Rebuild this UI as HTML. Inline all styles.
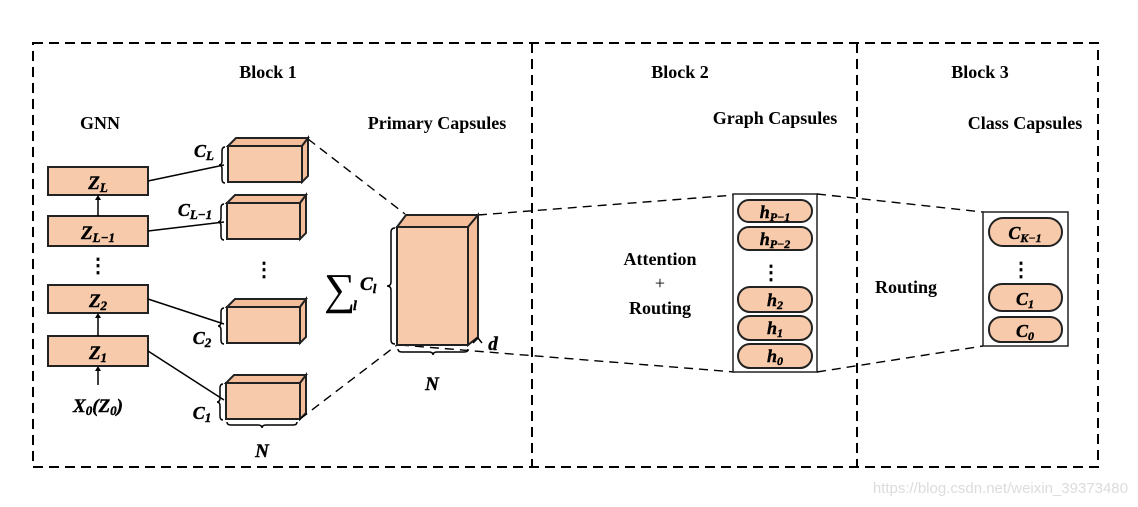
<!DOCTYPE html>
<html><head><meta charset="utf-8"><style>
html,body{margin:0;padding:0;background:#fff;}
svg{display:block;}
text{font-family:"Liberation Serif",serif;font-weight:bold;fill:#000;}
.m{font-style:italic;font-weight:900;stroke:#000;stroke-width:0.4;}
</style></head><body>
<svg width="1138" height="507" viewBox="0 0 1138 507" xmlns="http://www.w3.org/2000/svg">
<defs><style>
.d{stroke:#000;stroke-width:2;stroke-dasharray:10,6;fill:none}
.dl{stroke:#000;stroke-width:1.4;stroke-dasharray:9,6;fill:none}
.f{fill:#F7CAAB;stroke:#222;stroke-width:2}
.fs{fill:#F4BE9A;stroke:#222;stroke-width:2}
.l{stroke:#000;stroke-width:1.5;fill:none}
</style></defs>
<rect x="33" y="43" width="1065" height="424" class="d"/>
<line x1="532" y1="43" x2="532" y2="467" class="d"/>
<line x1="857" y1="43" x2="857" y2="467" class="d"/>
<text x="268" y="78" font-size="18" text-anchor="middle">Block 1</text>
<text x="680" y="78" font-size="18" text-anchor="middle">Block 2</text>
<text x="980" y="78" font-size="18" text-anchor="middle">Block 3</text>
<text x="100" y="129" font-size="18" text-anchor="middle">GNN</text>
<text x="437" y="129" font-size="18" text-anchor="middle">Primary Capsules</text>
<text x="775" y="124" font-size="18" text-anchor="middle">Graph Capsules</text>
<text x="1025" y="129" font-size="18" text-anchor="middle">Class Capsules</text>

<rect x="48" y="167" width="100" height="28" class="f"/>
<text x="98" y="189" font-size="19" text-anchor="middle" class="m">Z<tspan font-size="13" dy="3">L</tspan></text>
<rect x="48" y="216" width="100" height="30" class="f"/>
<text x="98" y="239" font-size="19" text-anchor="middle" class="m">Z<tspan font-size="13" dy="3">L−1</tspan></text>
<text x="98" y="272" font-size="20" text-anchor="middle">⋮</text>
<rect x="48" y="285" width="100" height="28" class="f"/>
<text x="98" y="307" font-size="19" text-anchor="middle" class="m">Z<tspan font-size="13" dy="3">2</tspan></text>
<rect x="48" y="336" width="100" height="30" class="f"/>
<text x="98" y="359" font-size="19" text-anchor="middle" class="m">Z<tspan font-size="13" dy="3">1</tspan></text>
<line x1="98" y1="216" x2="98" y2="197" class="l"/><polygon points="95,200 101,200 98,195"/>
<line x1="98" y1="336" x2="98" y2="315" class="l"/><polygon points="95,318 101,318 98,313"/>
<line x1="98" y1="385" x2="98" y2="368" class="l"/><polygon points="95,371 101,371 98,366"/>
<text x="98" y="412" font-size="19" text-anchor="middle" class="m">X<tspan font-size="13" dy="3">0</tspan><tspan dy="-3">(Z</tspan><tspan font-size="13" dy="3">0</tspan><tspan dy="-3">)</tspan></text>

<line x1="148" y1="181" x2="224" y2="165" class="l"/>
<line x1="148" y1="231" x2="224" y2="222" class="l"/>
<line x1="148" y1="299" x2="224" y2="324" class="l"/>
<line x1="148" y1="351" x2="224" y2="400" class="l"/>

<g>
<polygon points="228,146 236,138 308,138 302,146" class="fs"/><polygon points="302,146 308,138 308,176 302,182" class="fs"/><rect x="228" y="146" width="74" height="36" class="f"/>
<polygon points="227,203 235,195 306,195 300,203" class="fs"/><polygon points="300,203 306,195 306,233 300,239" class="fs"/><rect x="227" y="203" width="73" height="36" class="f"/>
<polygon points="227,307 235,299 306,299 300,307" class="fs"/><polygon points="300,307 306,299 306,337 300,343" class="fs"/><rect x="227" y="307" width="73" height="36" class="f"/>
<polygon points="226,383 234,375 306,375 300,383" class="fs"/><polygon points="300,383 306,375 306,413 300,419" class="fs"/><rect x="226" y="383" width="74" height="36" class="f"/>
</g>
<path d="M225,147 q-3,0 -3,4 v10 q0,4 -3,4 q3,0 3,4 v10 q0,4 3,4" class="l"/>
<path d="M224,204 q-3,0 -3,4 v10 q0,4 -3,4 q3,0 3,4 v10 q0,4 3,4" class="l"/>
<path d="M224,308 q-3,0 -3,4 v10 q0,4 -3,4 q3,0 3,4 v10 q0,4 3,4" class="l"/>
<path d="M223,384 q-3,0 -3,4 v10 q0,4 -3,4 q3,0 3,4 v10 q0,4 3,4" class="l"/>
<path d="M227,422 q0,3 4,3 h27 q4,0 4,3 q0,-3 4,-3 h27 q4,0 4,-3" class="l"/>
<text x="204" y="157" font-size="18" text-anchor="middle" class="m">C<tspan font-size="13" dy="3">L</tspan></text>
<text x="195" y="216" font-size="18" text-anchor="middle" class="m">C<tspan font-size="13" dy="3">L−1</tspan></text>
<text x="202" y="344" font-size="18" text-anchor="middle" class="m">C<tspan font-size="13" dy="3">2</tspan></text>
<text x="202" y="419" font-size="18" text-anchor="middle" class="m">C<tspan font-size="13" dy="3">1</tspan></text>
<text x="264" y="276" font-size="20" text-anchor="middle">⋮</text>
<text x="262" y="457" font-size="19" text-anchor="middle" class="m">N</text>

<line x1="308" y1="139" x2="405" y2="214" class="dl"/>
<line x1="300" y1="419" x2="397" y2="345" class="dl"/>
<line x1="478" y1="215" x2="735" y2="195" class="dl"/>
<line x1="400" y1="345" x2="735" y2="372" class="dl"/>
<polygon points="397,227 406,215 478,215 468,227" class="fs"/>
<polygon points="468,227 478,215 478,337 468,345" class="fs"/>
<rect x="397" y="227" width="71" height="118" class="f"/>
<path d="M395,228 q-4,0 -4,4 v50 q0,4 -4,4 q4,0 4,4 v50 q0,4 4,4" class="l"/>
<path d="M398,349 q0,3 4,3 h27 q4,0 4,3 q0,-3 4,-3 h27 q4,0 4,-3" class="l"/>
<path d="M473,343 l5,-5 l4,5" class="l"/>
<text x="432" y="390" font-size="19" text-anchor="middle" class="m">N</text>
<text x="493" y="350" font-size="19" text-anchor="middle" class="m">d</text>
<text x="324" y="304" font-size="44" style="font-weight:normal">∑</text>
<text x="353" y="310" font-size="14" class="m">l</text>
<text x="360" y="290" font-size="19" class="m">C<tspan font-size="13" dy="3">l</tspan></text>

<text x="660" y="265" font-size="18" text-anchor="middle">Attention</text>
<text x="660" y="289" font-size="18" text-anchor="middle" style="font-weight:normal">+</text>
<text x="660" y="314" font-size="18" text-anchor="middle">Routing</text>
<rect x="733" y="194" width="84" height="178" fill="#fff" stroke="#222" stroke-width="1.5"/>
<g>
<rect x="738" y="200" width="74" height="22" rx="11" class="f"/>
<text x="775" y="218" font-size="18" text-anchor="middle" class="m">h<tspan font-size="12" dy="3">P−1</tspan></text>
<rect x="738" y="227" width="74" height="23" rx="11" class="f"/>
<text x="775" y="245" font-size="18" text-anchor="middle" class="m">h<tspan font-size="12" dy="3">P−2</tspan></text>
<text x="771" y="279" font-size="20" text-anchor="middle">⋮</text>
<rect x="738" y="287" width="74" height="25" rx="12" class="f"/>
<text x="775" y="306" font-size="18" text-anchor="middle" class="m">h<tspan font-size="12" dy="3">2</tspan></text>
<rect x="738" y="316" width="74" height="24" rx="12" class="f"/>
<text x="775" y="334" font-size="18" text-anchor="middle" class="m">h<tspan font-size="12" dy="3">1</tspan></text>
<rect x="738" y="344" width="74" height="24" rx="12" class="f"/>
<text x="775" y="362" font-size="18" text-anchor="middle" class="m">h<tspan font-size="12" dy="3">0</tspan></text>
</g>
<line x1="817" y1="194" x2="983" y2="212" class="dl"/>
<line x1="817" y1="372" x2="983" y2="346" class="dl"/>

<text x="906" y="293" font-size="18" text-anchor="middle">Routing</text>
<rect x="983" y="212" width="85" height="134" fill="#fff" stroke="#222" stroke-width="1.5"/>
<rect x="989" y="218" width="73" height="28" rx="14" class="f"/>
<text x="1025" y="239" font-size="18" text-anchor="middle" class="m">C<tspan font-size="12" dy="3">K−1</tspan></text>
<text x="1021" y="276" font-size="20" text-anchor="middle">⋮</text>
<rect x="989" y="284" width="73" height="27" rx="13" class="f"/>
<text x="1025" y="305" font-size="18" text-anchor="middle" class="m">C<tspan font-size="12" dy="3">1</tspan></text>
<rect x="989" y="317" width="73" height="25" rx="12" class="f"/>
<text x="1025" y="337" font-size="18" text-anchor="middle" class="m">C<tspan font-size="12" dy="3">0</tspan></text>

<text x="1128" y="493" font-size="15" text-anchor="end" style="font-family:'Liberation Sans',sans-serif;font-weight:normal;fill:#dcdcdc">https://blog.csdn.net/weixin_39373480</text>
</svg>
</body></html>
